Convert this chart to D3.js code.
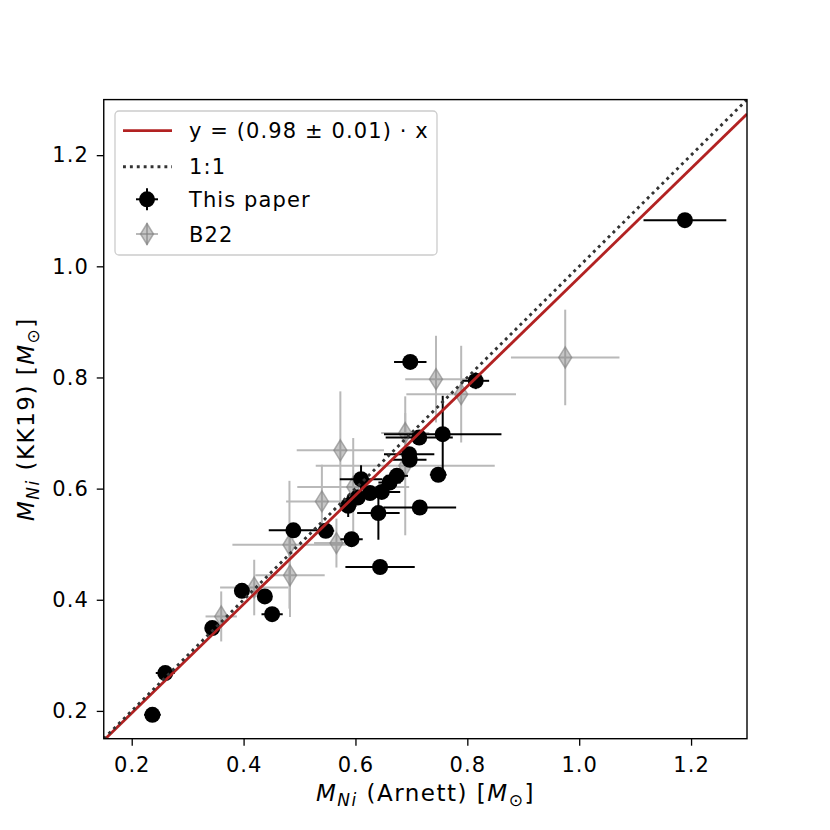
<!DOCTYPE html>
<html>
<head>
<meta charset="utf-8">
<script src="https://cdn.jsdelivr.net/npm/d3@7"></script>
<style>
  body { margin: 0; background: #fff; }
  text { font-family: "DejaVu Sans", sans-serif; }
</style>
</head>
<body>
<div id="chart"></div>
<script>
// "This paper" points
const paperX    = [0.237, 0.260, 0.344, 0.397, 0.438, 0.451, 0.489, 0.547, 0.593, 0.644, 0.587, 0.610, 0.604, 0.626, 0.647, 0.641, 0.715, 0.748, 0.756, 0.714, 0.696, 0.697, 0.698, 0.815, 1.189, 0.661, 0.674];
const paperY    = [0.193, 0.268, 0.349, 0.416, 0.406, 0.374, 0.525, 0.524, 0.509, 0.459, 0.569, 0.617, 0.584, 0.592, 0.594, 0.556, 0.566, 0.625, 0.698, 0.692, 0.662, 0.652, 0.828, 0.794, 1.083, 0.611, 0.623];
const paperXerr = [0.015, 0.017, 0.012, 0.012, 0.010, 0.019, 0.044, 0.015, 0.020, 0.062, 0.015, 0.038, 0.020, 0.020, 0.033, 0.038, 0.065, 0.015, 0.105, 0.060, 0.045, 0.030, 0.029, 0.024, 0.074, 0.020, 0.020];
const paperYerr = [0.006, 0.008, 0.006, 0.008, 0.008, 0.006, 0.008, 0.008, 0.008, 0.008, 0.020, 0.025, 0.010, 0.010, 0.010, 0.048, 0.010, 0.010, 0.069, 0.012, 0.012, 0.010, 0.010, 0.015, 0.008, 0.010, 0.010];

// B22 points
const b22X    = [0.360, 0.419, 0.483, 0.482, 0.540, 0.566, 0.573, 0.596, 0.689, 0.689, 0.744, 0.789, 0.975];
const b22Y    = [0.370, 0.422, 0.444, 0.499, 0.577, 0.502, 0.669, 0.603, 0.700, 0.641, 0.797, 0.770, 0.836];
const b22Xerr = [0.028, 0.061, 0.062, 0.102, 0.064, 0.040, 0.078, 0.100, 0.043, 0.160, 0.055, 0.098, 0.097];
const b22Yerr = [0.045, 0.050, 0.075, 0.115, 0.066, 0.044, 0.106, 0.088, 0.036, 0.125, 0.078, 0.087, 0.086];

// fit and axis settings
const slope = 0.98;
const domainXY = [0.15, 1.3];
const tickValues = [0.2, 0.4, 0.6, 0.8, 1.0, 1.2];
const legendLabels = ["y = (0.98 \u00b1 0.01) \u00b7 x", "1:1", "This paper", "B22"];

const margin = {top: 99.6, right: 83, bottom: 91.3, left: 103.75},
    width = 830 - margin.left - margin.right,
    height = 830 - margin.top - margin.bottom;

const svg = d3.select("#chart")
  .append("svg")
    .attr("width", 830)
    .attr("height", 830)
  .append("g")
    .attr("transform", `translate(${margin.left},${margin.top})`);

const x = d3.scaleLinear().domain(domainXY).range([0, width]);
const y = d3.scaleLinear().domain(domainXY).range([height, 0]);

svg.append("clipPath").attr("id", "clip")
  .append("rect").attr("width", width).attr("height", height);

const plot = svg.append("g").attr("clip-path", "url(#clip)");

const paper = paperX.map((d, i) => ({x: d, y: paperY[i], xe: paperXerr[i], ye: paperYerr[i]}));
const b22 = b22X.map((d, i) => ({x: d, y: b22Y[i], xe: b22Xerr[i], ye: b22Yerr[i]}));

// thin diamond like matplotlib 'd'
const diamond = (w, h) => `M0,${-h} L${w},0 L0,${h} L${-w},0 Z`;

// B22 error bars + markers
const gB = plot.append("g").attr("opacity", 0.55);
gB.selectAll(".bx").data(b22).join("line")
    .attr("x1", d => x(d.x - d.xe)).attr("x2", d => x(d.x + d.xe))
    .attr("y1", d => y(d.y)).attr("y2", d => y(d.y))
    .attr("stroke", "gray").attr("stroke-width", 2);
gB.selectAll(".by").data(b22).join("line")
    .attr("x1", d => x(d.x)).attr("x2", d => x(d.x))
    .attr("y1", d => y(d.y - d.ye)).attr("y2", d => y(d.y + d.ye))
    .attr("stroke", "gray").attr("stroke-width", 2);
plot.append("g").selectAll("path").data(b22).join("path")
    .attr("transform", d => `translate(${x(d.x)},${y(d.y)})`)
    .attr("d", diamond(6.5, 10.5))
    .attr("fill", "gray").attr("fill-opacity", 0.45)
    .attr("stroke", "gray").attr("stroke-opacity", 0.6).attr("stroke-width", 1.5);

// This paper error bars + markers
const gP = plot.append("g");
gP.selectAll(".px").data(paper).join("line")
    .attr("x1", d => x(d.x - d.xe)).attr("x2", d => x(d.x + d.xe))
    .attr("y1", d => y(d.y)).attr("y2", d => y(d.y))
    .attr("stroke", "black").attr("stroke-width", 2);
gP.selectAll(".py").data(paper).join("line")
    .attr("x1", d => x(d.x)).attr("x2", d => x(d.x))
    .attr("y1", d => y(d.y - d.ye)).attr("y2", d => y(d.y + d.ye))
    .attr("stroke", "black").attr("stroke-width", 2);
gP.selectAll("circle").data(paper).join("circle")
    .attr("cx", d => x(d.x)).attr("cy", d => y(d.y)).attr("r", 8)
    .attr("fill", "black");

// fit line and 1:1
plot.append("line")
    .attr("x1", x(domainXY[0])).attr("y1", y(slope * domainXY[0]))
    .attr("x2", x(domainXY[1])).attr("y2", y(slope * domainXY[1]))
    .attr("stroke", "#b22222").attr("stroke-width", 2.8);
plot.append("line")
    .attr("x1", x(domainXY[0])).attr("y1", y(domainXY[0]))
    .attr("x2", x(domainXY[1])).attr("y2", y(domainXY[1]))
    .attr("stroke", "#333333").attr("stroke-width", 2.9)
    .attr("stroke-dasharray", "2.9,4.0");

// axes
const tickStyle = g => g.selectAll("text")
    .style("font-size", "21px").style("letter-spacing", "1px")
    .attr("font-family", "DejaVu Sans");
svg.append("g")
    .attr("transform", `translate(0,${height})`)
    .call(d3.axisBottom(x).tickValues(tickValues).tickFormat(d3.format(".1f")).tickSize(7).tickSizeOuter(0).tickPadding(11))
    .call(g => g.select(".domain").remove())
    .call(g => g.selectAll("line").attr("stroke-width", 1.3))
    .call(tickStyle);
svg.append("g")
    .call(d3.axisLeft(y).tickValues(tickValues).tickFormat(d3.format(".1f")).tickSize(7).tickSizeOuter(0).tickPadding(8))
    .call(g => g.select(".domain").remove())
    .call(g => g.selectAll("line").attr("stroke-width", 1.3))
    .call(tickStyle);

// frame
svg.append("rect").attr("width", width).attr("height", height)
    .attr("fill", "none").attr("stroke", "black").attr("stroke-width", 1.4);

// axis labels
function massLabel(sel, rest) {
  sel.append("tspan").attr("font-style", "italic").text("M");
  sel.append("tspan").attr("font-style", "italic").attr("font-size", "17px").attr("dy", 5).text("Ni");
  sel.append("tspan").attr("dy", -5).text(" " + rest + " [");
  sel.append("tspan").attr("font-style", "italic").text("M");
  sel.append("tspan").attr("font-size", "17px").attr("dy", 5).text("\u2299");
  sel.append("tspan").attr("dy", -5).text("]");
}
svg.append("text")
    .attr("x", width / 2).attr("y", 801 - margin.top)
    .attr("text-anchor", "middle")
    .style("font-size", "23px").style("letter-spacing", "1.5px")
    .call(massLabel, "(Arnett)");
svg.append("text")
    .attr("transform", `translate(${34 - margin.left},${height / 2}) rotate(-90)`)
    .attr("text-anchor", "middle")
    .style("font-size", "23px").style("letter-spacing", "1.5px")
    .call(massLabel, "(KK19)");

// legend
const lg = svg.append("g").attr("transform", `translate(${115 - margin.left},${111 - margin.top})`);
lg.append("rect").attr("width", 322).attr("height", 144).attr("rx", 4)
    .attr("fill", "white").attr("fill-opacity", 0.8)
    .attr("stroke", "#cccccc").attr("stroke-width", 1.3);
const rowY = [19.7, 55.7, 88.3, 123];
lg.append("line").attr("x1", 8).attr("x2", 57).attr("y1", rowY[0]).attr("y2", rowY[0])
    .attr("stroke", "#b22222").attr("stroke-width", 2.8);
lg.append("line").attr("x1", 8).attr("x2", 57).attr("y1", rowY[1]).attr("y2", rowY[1])
    .attr("stroke", "#333333").attr("stroke-width", 2.9).attr("stroke-dasharray", "2.9,4.0");
const lp = lg.append("g").attr("transform", `translate(32,${rowY[2]})`);
lp.append("line").attr("x1", -11).attr("x2", 11).attr("stroke", "black").attr("stroke-width", 2);
lp.append("line").attr("y1", -11).attr("y2", 11).attr("stroke", "black").attr("stroke-width", 2);
lp.append("circle").attr("r", 8).attr("fill", "black");
const lb = lg.append("g").attr("transform", `translate(32,${rowY[3]})`);
lb.append("line").attr("x1", -11).attr("x2", 11).attr("stroke", "gray").attr("stroke-width", 2).attr("opacity", 0.55);
lb.append("line").attr("y1", -11).attr("y2", 11).attr("stroke", "gray").attr("stroke-width", 2).attr("opacity", 0.55);
lb.append("path").attr("d", diamond(6.5, 10.5))
    .attr("fill", "gray").attr("fill-opacity", 0.45)
    .attr("stroke", "gray").attr("stroke-opacity", 0.6).attr("stroke-width", 1.5);
lg.selectAll(".lt").data(legendLabels).join("text")
    .attr("x", 74).attr("y", (d, i) => rowY[i])
    .attr("dy", "0.36em")
    .style("font-size", "21px").style("letter-spacing", "1.1px")
    .text(d => d);
</script>
</body>
</html>
